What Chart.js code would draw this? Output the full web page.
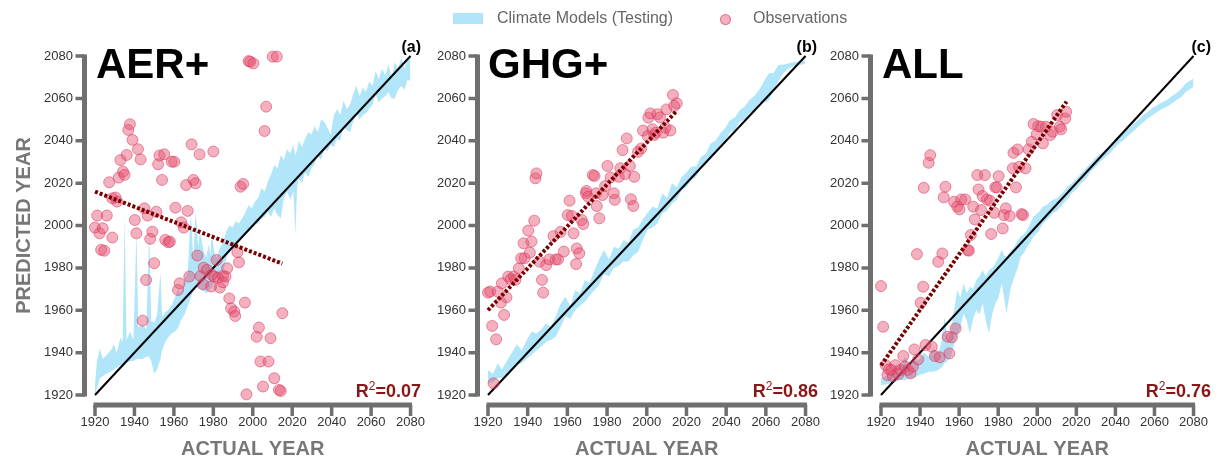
<!DOCTYPE html>
<html>
<head>
<meta charset="utf-8">
<script src="https://cdn.jsdelivr.net/npm/chart.js@4.4.0/dist/chart.umd.min.js"></script>
<style>
  body { margin: 0; background: #fff; width: 1228px; height: 460px; position: relative; overflow: hidden;
         font-family: 'Liberation Sans', Arial, sans-serif; }
  canvas { position: absolute; top: 0; }
  .lbl { position: absolute; white-space: nowrap; }
  .big { font-size: 42px; font-weight: bold; line-height: 42px; color: #000; top: 43px; }
  .tag { font-size: 16px; font-weight: bold; line-height: 16px; color: #000; top: 39px; }
  .r2 { font-size: 18px; font-weight: bold; line-height: 18px; color: #8b1414; top: 382px; }
  .r2 span { font-size: 12px; font-weight: normal; position: relative; top: -7px; }
  .leg { position: absolute; top: 10px; font-size: 16px; line-height: 16px; color: #666; }
</style>
</head>
<body>
<canvas id="panelA" width="445" height="460" style="left:0px"></canvas>
<canvas id="panelB" width="410" height="460" style="left:430px"></canvas>
<canvas id="panelC" width="405" height="460" style="left:823px"></canvas>

<div class="leg" style="left:453px;top:13px;width:30px;height:11px;background:#b1e6fa"></div>
<div class="leg" style="left:497px">Climate Models (Testing)</div>
<div class="leg" style="left:720px;top:14px;width:9px;height:9px;border-radius:50%;background:rgba(228,80,110,0.45);border:1px solid rgba(215,45,85,0.5)"></div>
<div class="leg" style="left:753px">Observations</div>

<div class="lbl big" style="left:96px">AER+</div>
<div class="lbl big" style="left:488px">GHG+</div>
<div class="lbl big" style="left:882px">ALL</div>
<div class="lbl tag" style="right:807px">(a)</div>
<div class="lbl tag" style="right:411px">(b)</div>
<div class="lbl tag" style="right:17px">(c)</div>
<div class="lbl r2" style="right:807px">R<span>2</span>=0.07</div>
<div class="lbl r2" style="right:410px">R<span>2</span>=0.86</div>
<div class="lbl r2" style="right:17px">R<span>2</span>=0.76</div>

<script>
// axis ticks (years)
const tickYears = [1920, 1940, 1960, 1980, 2000, 2020, 2040, 2060, 2080];

// ---- (a) AER+ ----
const obsYearA = [1920.0, 1921.1, 1922.3, 1923.1, 1923.9, 1924.7, 1926.0, 1927.2, 1928.8, 1928.8, 1930.4, 1931.2,
  1932.0, 1932.9, 1934.2, 1935.0, 1936.1, 1936.9, 1937.7, 1939.0, 1940.2, 1941.0, 1941.8, 1943.1, 1944.2, 1945.0,
  1945.9, 1946.7, 1948.0, 1949.1, 1950.0, 1951.1, 1952.0, 1952.7, 1954.0, 1955.1, 1955.6, 1957.2, 1958.0, 1958.9,
  1960.2, 1960.8, 1962.1, 1962.9, 1963.7, 1965.0, 1966.2, 1967.0, 1967.8, 1969.0, 1969.9, 1971.0, 1971.9, 1973.0,
  1973.5, 1974.8, 1975.1, 1976.8, 1978.9, 1979.2, 1980.0, 1980.5, 1981.6, 1982.4, 1983.3, 1984.9, 1984.9, 1986.2,
  1987.0, 1988.1, 1989.0, 1990.6, 1991.1, 1992.2, 1993.0, 1993.8, 1995.1, 1996.0, 1996.8, 1997.9, 1998.7, 2000.3,
  2002.0, 2003.1, 2003.9, 2005.2, 2006.0, 2006.8, 2008.0, 2009.0, 2010.1, 2010.9, 2012.2, 2013.3, 2014.2, 2015.0];
const obsPredA = [1999.0, 2004.7, 1996.3, 1988.5, 1998.7, 1988.1, 2004.7, 2020.4, 2012.8, 1994.3, 2013.2, 2011.3,
  2022.6, 2030.9, 2025.4, 2023.9, 2033.3, 2045.1, 2047.8, 2040.4, 2002.6, 1996.3, 2036.0, 2031.2, 1955.1, 2008.1,
  1974.3, 2004.7, 1993.7, 1997.1, 1982.2, 2006.5, 2028.9, 2033.0, 2021.5, 2033.6, 1993.2, 1992.1, 1992.4, 2030.1,
  2030.1, 2008.4, 1969.6, 1972.7, 2001.5, 1999.0, 2019.1, 2006.9, 1975.9, 2038.3, 2021.5, 2019.9, 1985.8, 2033.6,
  1976.2, 1972.3, 1980.1, 1979.0, 1971.2, 1976.7, 2034.9, 1975.9, 1983.7, 1975.4, 1970.7, 1976.2, 1973.2, 1975.9,
  1979.8, 1965.6, 1960.9, 1959.4, 1957.3, 1987.4, 1982.6, 2018.3, 2019.6, 1963.6, 1920.3, 2077.6, 2077.3, 2076.5,
  1947.5, 1951.8, 1935.8, 1924.0, 2044.6, 2056.1, 1935.8, 1946.8, 2079.7, 1927.9, 2079.7, 1922.4, 1921.9, 1958.6];
const bandYearA = [1920, 1921, 1922.5, 1924, 1926, 1928, 1929.6, 1931, 1932.9, 1934, 1935, 1936, 1937.7, 1939.5,
  1941, 1942, 1944.2, 1946, 1947.5, 1948.5, 1950, 1951.5, 1953.2, 1954, 1955.6, 1957, 1958.9, 1960.5, 1962.1, 1963.5,
  1965.4, 1967, 1968.6, 1969.8, 1971.1, 1972.3, 1973.2, 1975.1, 1976.5, 1977.6, 1978.5, 1979.2, 1980.4, 1981.6,
  1983.2, 1984.9, 1986.5, 1988.1, 1989.8, 1991.4, 1993, 1994.6, 1996.2, 1997.9, 1999.5, 2001.1, 2002.7, 2004.4,
  2006, 2007.6, 2009.2, 2010.9, 2012.5, 2014.2, 2015.8, 2017.4, 2019, 2020.6, 2021.6, 2022.5, 2023.3, 2025, 2026.5,
  2028.2, 2029.8, 2031.4, 2033, 2034.6, 2036.3, 2037.9, 2039.5, 2041.1, 2042.8, 2044.4, 2046, 2047.7, 2049.3,
  2050.9, 2052.5, 2054.2, 2055.8, 2057.4, 2059, 2060.7, 2062.3, 2063.9, 2065.5, 2067.2, 2068.8, 2070.4, 2072,
  2073.7, 2075.3, 2076.9, 2078.5, 2080];
const bandLowA = [1920.5, 1923, 1928, 1929, 1930, 1931, 1932, 1933, 1934, 1934, 1934, 1935, 1936, 1936,
  1937, 1937, 1937, 1938, 1938, 1936, 1930, 1932, 1937, 1941, 1945, 1947, 1949, 1950, 1951.5, 1955,
  1958, 1962, 1966, 1969, 1972, 1970, 1970, 1969, 1968, 1969, 1970, 1971, 1973, 1975,
  1976, 1978, 1984, 1989, 1990, 1991, 1993, 1995.5, 1996, 1997, 1999, 2000.3, 2001, 2003.4,
  2004, 2006.5, 2004, 2008, 2005, 2003.4, 2013, 2016, 2012, 2016, 1995.5, 2018, 2022, 2020, 2025,
  2023, 2027, 2029, 2033, 2031, 2036, 2035, 2038, 2037, 2041, 2040, 2047, 2045, 2044,
  2049, 2054, 2050, 2052, 2053, 2055, 2057, 2062, 2058, 2060, 2061, 2063, 2060, 2060,
  2064, 2066, 2064, 2069, 2068];
const bandHighA = [1925, 1936, 1942, 1937, 1939, 1941, 1944, 1940, 1947, 1945, 2004, 1946, 1950, 1946,
  1997, 1952, 1953, 1951, 1997, 1955, 1954, 1958, 1978, 1957, 1959, 1960, 1962.5, 1966, 1970, 1968,
  1975, 1978, 2006, 1985, 2007, 1990, 1997, 1988, 1985, 1991, 1986, 1997, 1988, 1984.5,
  1989, 1992, 1997, 2000, 1999, 2002, 2001, 2003.4, 2006, 2009.7, 2008, 2011.3, 2013, 2017.6,
  2016, 2020.7, 2024, 2028.6, 2027, 2033, 2031, 2036, 2034, 2038, 2033, 2036, 2040, 2037, 2041,
  2044, 2043, 2047, 2044, 2050, 2049, 2046, 2043, 2052, 2055, 2052, 2059, 2055, 2057,
  2062, 2066, 2061, 2065, 2063, 2068, 2066, 2073, 2069, 2074, 2071, 2076, 2070, 2077,
  2074, 2079, 2074, 2079, 2078];
const fitYearA = [1920, 2015];
const fitPredA = [2016, 1982];

// ---- (b) GHG+ ----
const obsYearB = [1920.0, 1921.1, 1922.1, 1922.8, 1924.1, 1924.9, 1926.5, 1927.0, 1928.1, 1929.3, 1930.2, 1931.4,
  1933.0, 1933.8, 1935.5, 1936.7, 1937.9, 1938.4, 1940.3, 1941.1, 1941.9, 1943.3, 1943.9, 1944.4, 1946.0, 1947.2,
  1947.8, 1949.3, 1950.9, 1953.0, 1954.1, 1955.3, 1956.6, 1958.2, 1960.2, 1961.1, 1962.3, 1963.1, 1964.4, 1964.7,
  1966.0, 1967.2, 1968.0, 1969.3, 1969.6, 1970.4, 1972.8, 1973.7, 1974.5, 1974.8, 1976.1, 1977.7, 1979.0, 1980.2,
  1981.8, 1983.4, 1983.9, 1985.9, 1986.7, 1987.8, 1989.1, 1989.9, 1991.5, 1992.0, 1993.2, 1993.7, 1995.6, 1997.2,
  1998.1, 2000.5, 2000.8, 2001.8, 2002.9, 2003.7, 2004.5, 2005.4, 2006.7, 2008.3, 2009.4, 2009.9, 2011.9, 2013.2,
  2013.8, 2015.1];
const obsPredB = [1968.3, 1968.8, 1952.6, 1925.5, 1946.3, 1968.8, 1963.6, 1972.7, 1957.8, 1966.1, 1975.9, 1974.6,
  1975.9, 1974.3, 1979.8, 1984.5, 1991.6, 1984.5, 1997.6, 1987.2, 1992.4, 2002.3, 2022.3, 2024.6, 1982.9, 1974.3,
  1968.3, 1981.3, 1984.0, 1995.0, 1984.0, 1984.0, 1997.0, 1987.7, 2004.9, 2011.7, 2004.5, 1996.3, 1981.8, 1989.2,
  1986.9, 2002.6, 2000.7, 2015.2, 2016.3, 2013.6, 2023.8, 2023.4, 2015.2, 2009.2, 2003.4, 2014.4, 2018.6, 2028.1,
  2022.7, 2015.2, 2012.1, 2023.0, 2027.0, 2035.6, 2024.3, 2041.1, 2028.1, 2012.4, 2009.2, 2023.0, 2034.8, 2036.4,
  2044.8, 2042.2, 2050.9, 2052.9, 2045.4, 2042.7, 2043.8, 2052.5, 2051.0, 2043.8, 2046.2, 2054.8, 2044.8, 2061.6,
  2056.4, 2057.7];
const bandYearB = [1920, 1922.5, 1924.9, 1927, 1929.8, 1932, 1934.6, 1937, 1939.5, 1942, 1944.4, 1947, 1949.3,
  1951.5, 1954.1, 1956.5, 1959, 1961.5, 1963.9, 1966.3, 1968.8, 1971.2, 1973.7, 1976, 1978.5, 1981, 1983.4, 1985.9,
  1988.3, 1990.7, 1993.2, 1995.6, 1998, 2000.4, 2002.9, 2005.3, 2007.8, 2010.2, 2012.7, 2015.1, 2017.6, 2020,
  2022.4, 2024.9, 2027.3, 2029.8, 2032.2, 2034.6, 2037.1, 2039.5, 2042, 2044.4, 2046.8, 2049.3, 2051.7, 2054.1,
  2056.6, 2059, 2061.5, 2063.9, 2066.3, 2068.8, 2071.2, 2073.7, 2076.1, 2078.5, 2080];
const bandLowB = [1925.5, 1926, 1928, 1928, 1930, 1932, 1934, 1935, 1937, 1939, 1941, 1943, 1945,
  1946, 1947.5, 1952, 1957, 1956, 1960, 1962, 1964, 1967, 1969.5, 1972, 1977, 1976, 1980, 1981,
  1983, 1983, 1986, 1987.5, 1993, 1998, 1999, 2001, 2005.7, 2007, 2010.4, 2012, 2016.7, 2018,
  2021.5, 2023, 2027, 2029, 2033, 2034, 2038, 2040, 2044, 2045, 2049, 2050, 2053, 2054,
  2058, 2058, 2059, 2064, 2068, 2072, 2074, 2075, 2075.7, 2076, 2076.5];
const bandHighB = [1931.8, 1930, 1935, 1932, 1936.5, 1940, 1944, 1941, 1946, 1950, 1949, 1951, 1954,
  1952, 1957, 1963, 1966.4, 1962, 1969.5, 1968, 1974.3, 1973, 1979, 1984, 1988.4, 1984, 1990, 1989,
  1993, 1992, 1998, 1999, 2003, 2006, 2008.9, 2008, 2015.2, 2013, 2019.9, 2018, 2023, 2025,
  2027.7, 2028, 2032.5, 2034, 2038.8, 2040, 2043.5, 2046, 2049.8, 2051, 2054.5, 2056, 2059.2, 2061,
  2064, 2068, 2071.8, 2072, 2075.7, 2076, 2076.5, 2077, 2077.3, 2077.8, 2078];
const fitYearB = [1920, 2015];
const fitPredB = [1960, 2054];

// ---- (c) ALL ----
const obsYearC = [1920.0, 1921.1, 1922.4, 1923.3, 1924.1, 1925.4, 1926.0, 1927.3, 1929.0, 1929.8, 1931.4, 1932.2,
  1933.8, 1935.1, 1936.3, 1937.1, 1938.4, 1939.0, 1940.3, 1941.6, 1941.9, 1942.8, 1944.4, 1945.2, 1946.0, 1947.6,
  1949.3, 1950.1, 1951.4, 1952.1, 1953.0, 1954.1, 1955.0, 1956.3, 1957.4, 1958.2, 1959.0, 1960.2, 1961.1, 1963.1,
  1964.4, 1965.0, 1966.0, 1967.2, 1968.0, 1969.3, 1969.9, 1971.2, 1972.0, 1973.2, 1974.2, 1975.8, 1976.4, 1978.0,
  1978.5, 1979.3, 1980.2, 1982.3, 1982.9, 1983.9, 1985.9, 1987.5, 1987.8, 1989.1, 1989.9, 1990.7, 1992.0, 1992.7,
  1994.0, 1995.6, 1997.2, 1998.1, 1999.7, 2000.5, 2002.1, 2002.9, 2004.5, 2006.7, 2007.8, 2010.2, 2011.5, 2012.2,
  2014.3, 2014.8];
const obsPredC = [1971.4, 1952.2, 1934.1, 1929.4, 1932.1, 1931.8, 1928.9, 1934.1, 1929.9, 1931.8, 1938.4, 1933.4,
  1931.8, 1930.2, 1933.4, 1941.5, 1986.5, 1936.8, 1963.5, 1971.1, 2017.8, 1943.6, 2029.6, 2033.2, 1942.8, 1938.4,
  1982.9, 1937.8, 1986.8, 2013.3, 2018.3, 1947.5, 1939.6, 1947.2, 2011.2, 1951.4, 2008.9, 2007.6, 2012.3, 2012.3,
  1988.4, 1988.1, 1995.5, 2008.9, 2002.9, 2023.8, 2017.0, 2007.3, 2013.9, 2023.8, 2012.3, 2011.7, 1996.0, 2006.0,
  2018.0, 2018.0, 2023.3, 1998.6, 2004.9, 2008.1, 2004.5, 2027.0, 2034.3, 2018.0, 2035.9, 2027.7, 2005.4, 2004.9,
  2027.0, 2035.9, 2039.5, 2047.9, 2043.0, 2046.9, 2046.6, 2038.8, 2046.6, 2042.7, 2044.3, 2052.1, 2046.6, 2045.4,
  2050.5, 2053.7];
const bandYearC = [1920, 1922.5, 1924.9, 1927.3, 1929.8, 1932.2, 1934.6, 1937.1, 1939.5, 1942, 1944.4, 1946.8,
  1949.3, 1951, 1952.5, 1954.1, 1955.8, 1957.4, 1959, 1960.6, 1962.3, 1963.9, 1965.5, 1967.2, 1968.8, 1970.4, 1972,
  1973.7, 1975.3, 1976.9, 1978.5, 1980.2, 1981.8, 1983, 1984.2, 1986.3, 1988.3, 1990, 1991.5, 1993.2, 1994.8, 1996.4,
  1998, 2000.5, 2002.9, 2005.3, 2007.8, 2010.2, 2012.7, 2015.1, 2017.6, 2020, 2022.4, 2024.9, 2027.3, 2029.8,
  2032.2, 2034.6, 2037.1, 2039.5, 2042, 2044.4, 2046.8, 2049.3, 2051.7, 2054.1, 2056.6, 2059, 2061.5, 2063.9,
  2066.3, 2068.8, 2071.2, 2073.7, 2076.1, 2078.5, 2080];
const bandLowC = [1924.7, 1925, 1925.5, 1926, 1927.1, 1927, 1927.9, 1928, 1929.4, 1930, 1931, 1931,
  1931.8, 1933, 1935, 1936, 1938.1, 1944, 1947.5, 1952, 1958.5, 1955, 1949.1, 1956, 1960.1, 1958, 1963.2,
  1955, 1949.1, 1958, 1963.2, 1966, 1972.7, 1966, 1958.5, 1970, 1975.8, 1980, 1985.3, 1987, 1990, 1992,
  1994.7, 1997, 2001, 2003, 2005.7, 2007, 2009.7, 2012, 2015.2, 2017, 2019.9, 2022, 2025.4, 2027.5,
  2030.1, 2032, 2034, 2036.5, 2038.8, 2040.5, 2042.7, 2044.5, 2046.6, 2048.5, 2050.6, 2052, 2053.7, 2055,
  2056.1, 2057.5, 2059.2, 2060.5, 2063.1, 2064.5, 2065.5];
const bandHighC = [1927.9, 1929, 1930.2, 1934, 1933.4, 1938, 1935, 1936, 1936.5, 1940, 1938.1, 1942,
  1939.6, 1945, 1957, 1946, 1950.7, 1960, 1969.5, 1966, 1972.7, 1968, 1971.1, 1970, 1974.3, 1976, 1979,
  1976, 1979, 1980, 1982.1, 1985, 1988.4, 1986, 1985.3, 1988, 1990, 1993, 1994.7, 1996, 1997.9, 2001,
  2004.1, 2006, 2008.9, 2010, 2012, 2013, 2015.2, 2018, 2019.9, 2022, 2024.6, 2027, 2029.3, 2032,
  2034, 2035.5, 2037.2, 2040.5, 2042.7, 2044, 2045.8, 2048, 2049.8, 2052, 2053.7, 2055.5, 2056.9, 2058,
  2059.2, 2061, 2062.4, 2064.5, 2067.1, 2068.5, 2069.4];
const fitYearC = [1920, 2015];
const fitPredC = [1934, 2058.5];

// identity line ends
const oneToOne = [1920, 2080];

const bandColor = '#b1e6fa';
const gray = '#6f6f6f';

function pairs(xs, ys) {
    return xs.map((x, i) => ({ x: x, y: ys[i] }));
}

// offset "despined" axes drawn from the scale positions
const offsetAxes = {
    id: 'offsetAxes',
    afterDraw(chart) {
        const { ctx, chartArea, scales } = chart;
        const sx = chartArea.left - 10.5;
        const sy = chartArea.bottom + 10;
        ctx.save();
        ctx.strokeStyle = gray;
        ctx.lineWidth = 5;
        ctx.beginPath();
        ctx.moveTo(sx, scales.y.getPixelForValue(2080) - 1.5);
        ctx.lineTo(sx, scales.y.getPixelForValue(1920) + 1.5);
        ctx.moveTo(scales.x.getPixelForValue(1920) - 1.5, sy);
        ctx.lineTo(scales.x.getPixelForValue(2080) + 1.5, sy);
        ctx.stroke();
        ctx.lineWidth = 3.5;
        ctx.beginPath();
        scales.y.ticks.forEach(t => {
            const py = scales.y.getPixelForValue(t.value);
            ctx.moveTo(sx, py);
            ctx.lineTo(sx - 9, py);
        });
        scales.x.ticks.forEach(t => {
            const px = scales.x.getPixelForValue(t.value);
            ctx.moveTo(px, sy);
            ctx.lineTo(px, sy + 11);
        });
        ctx.stroke();
        ctx.restore();
    }
};

function drawPanel(canvasId, p) {
    const tickFont = { family: "'Liberation Sans', Arial, sans-serif", size: 13 };
    const titleFont = { family: "'Liberation Sans', Arial, sans-serif", size: 20, weight: 'bold', lineHeight: 1 };
    new Chart(document.getElementById(canvasId), {
        type: 'scatter',
        data: {
            datasets: [
                {
                    type: 'line',
                    label: 'Fit',
                    data: pairs(p.fitYears, p.fitPred),
                    borderColor: '#7a0000',
                    borderWidth: 4,
                    borderDash: [3, 2],
                    pointRadius: 0,
                    fill: false,
                    clip: false
                },
                {
                    label: 'Observations',
                    data: pairs(p.obsYears, p.obsPred),
                    backgroundColor: 'rgba(228, 80, 110, 0.45)',
                    borderColor: 'rgba(215, 45, 85, 0.5)',
                    borderWidth: 1,
                    pointRadius: 5.5,
                    clip: false
                },
                {
                    type: 'line',
                    label: '1:1',
                    data: pairs(oneToOne, oneToOne),
                    borderColor: '#000',
                    borderWidth: 2,
                    pointRadius: 0,
                    fill: false,
                    clip: false
                },
                {
                    type: 'line',
                    label: 'Climate Models (Testing)',
                    data: pairs(p.bandYears, p.bandHigh),
                    borderColor: 'rgba(0,0,0,0)',
                    borderWidth: 0,
                    pointRadius: 0,
                    backgroundColor: bandColor,
                    fill: '+1',
                    clip: false
                },
                {
                    type: 'line',
                    label: 'band low',
                    data: pairs(p.bandYears, p.bandLow),
                    borderColor: 'rgba(0,0,0,0)',
                    borderWidth: 0,
                    pointRadius: 0,
                    fill: false,
                    clip: false
                }
            ]
        },
        options: {
            responsive: false,
            animation: false,
            events: [],
            devicePixelRatio: 1,
            layout: { padding: { top: 56, right: p.padRight, left: 0, bottom: 0 } },
            plugins: {
                legend: { display: false },
                tooltip: { enabled: false }
            },
            scales: {
                x: {
                    type: 'linear',
                    position: 'bottom',
                    min: 1920,
                    max: 2080,
                    afterFit: s => { s.height = 65; },
                    afterBuildTicks: s => { s.ticks = tickYears.map(v => ({ value: v })); },
                    grid: { display: false, drawTicks: false },
                    border: { display: false },
                    ticks: { color: '#333', font: tickFont, padding: 20, maxRotation: 0, callback: v => String(v) },
                    title: { display: true, text: 'ACTUAL YEAR', color: '#777', font: titleFont, padding: { top: 0, bottom: 1 } }
                },
                y: {
                    type: 'linear',
                    min: 1920,
                    max: 2080,
                    afterFit: s => { s.width = p.yWidth; },
                    afterBuildTicks: s => { s.ticks = tickYears.map(v => ({ value: v })); },
                    grid: { display: false, drawTicks: false },
                    border: { display: false },
                    ticks: { color: '#333', font: tickFont, padding: 22, callback: v => String(v) },
                    title: { display: p.yTitle, text: 'PREDICTED YEAR', color: '#777', font: titleFont, padding: { top: 14, bottom: 0 } }
                }
            }
        },
        plugins: [offsetAxes]
    });
}

drawPanel('panelA', { obsYears: obsYearA, obsPred: obsPredA, bandYears: bandYearA, bandLow: bandLowA, bandHigh: bandHighA,
    fitYears: fitYearA, fitPred: fitPredA, yWidth: 95, padRight: 22, yTitle: true });
drawPanel('panelB', { obsYears: obsYearB, obsPred: obsPredB, bandYears: bandYearB, bandLow: bandLowB, bandHigh: bandHighB,
    fitYears: fitYearB, fitPred: fitPredB, yWidth: 58, padRight: 24, yTitle: false });
drawPanel('panelC', { obsYears: obsYearC, obsPred: obsPredC, bandYears: bandYearC, bandLow: bandLowC, bandHigh: bandHighC,
    fitYears: fitYearC, fitPred: fitPredC, yWidth: 58, padRight: 19, yTitle: false });
</script>
</body>
</html>
